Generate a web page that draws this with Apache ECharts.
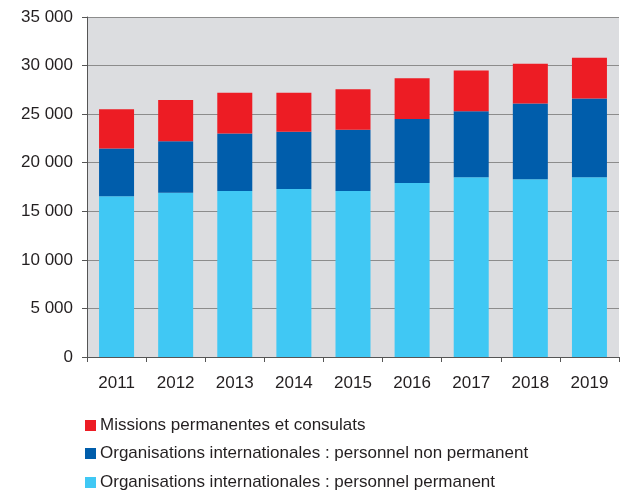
<!DOCTYPE html>
<html>
<head>
<meta charset="utf-8">
<script src="https://cdn.jsdelivr.net/npm/echarts@6/dist/echarts.min.js"></script>
<style>
  html, body { margin: 0; padding: 0; background: #fff; }
  #chart { width: 632px; height: 492px; }
</style>
</head>
<body>
<div id="chart"></div>
<script>
var years = ['2011', '2012', '2013', '2014', '2015', '2016', '2017', '2018', '2019'];

// segment values (stacked)
var permanent = [16560, 16900, 17100, 17300, 17100, 17900, 18500, 18300, 18500];
var nonPermanent = [4910, 5300, 5900, 5900, 6300, 6600, 6800, 7800, 8100];
var missions = [4030, 4250, 4200, 4000, 4150, 4200, 4200, 4100, 4200];

var names = [
  'Missions permanentes et consulats',
  'Organisations internationales : personnel non permanent',
  'Organisations internationales : personnel permanent'
];

var chart = echarts.init(document.getElementById('chart'));

function fmt(v) {
  return String(v).replace(/\B(?=(\d{3})+(?!\d))/g, ' ');
}

function bar(name, data, color) {
  return {
    name: name,
    type: 'bar',
    stack: 'total',
    data: data,
    barWidth: 35,
    itemStyle: { color: color },
    emphasis: { disabled: true }
  };
}

// one legend per row so they stack like the original
var legendRows = [427, 455, 484];
var legends = names.map(function (n, i) {
  return {
    data: [n],
    left: 85,
    top: legendRows[i] - 10,
    padding: 0,
    itemWidth: 11, itemHeight: 11,
    icon: 'rect',
    selectedMode: false,
    textStyle: { fontSize: 17, color: '#231f20', padding: [0, 0, 0, -1] }
  };
});

chart.setOption({
  animation: false,
  textStyle: { fontFamily: 'Liberation Sans, Arial, sans-serif' },
  grid: {
    left: 87, right: 13, top: 17, bottom: 135,
    show: true, backgroundColor: '#dcdde0', borderWidth: 0
  },
  legend: legends,
  xAxis: {
    type: 'category',
    data: years,
    axisLine: { lineStyle: { color: '#555', width: 1 } },
    axisTick: { show: true, length: 5, lineStyle: { color: '#555' } },
    axisLabel: { fontSize: 17, color: '#231f20', margin: 18 }
  },
  yAxis: {
    type: 'value',
    min: 0, max: 35000, interval: 5000,
    axisLine: { show: true, lineStyle: { color: '#555', width: 1 } },
    axisTick: { show: true, length: 5, lineStyle: { color: '#555' } },
    splitLine: { lineStyle: { color: '#8c8c8c', width: 1 } },
    axisLabel: { fontSize: 17, color: '#231f20', margin: 14, formatter: fmt }
  },
  series: [
    bar(names[2], permanent, '#40c8f4'),
    bar(names[1], nonPermanent, '#005dab'),
    bar(names[0], missions, '#ed1c24')
  ]
});
</script>
</body>
</html>
